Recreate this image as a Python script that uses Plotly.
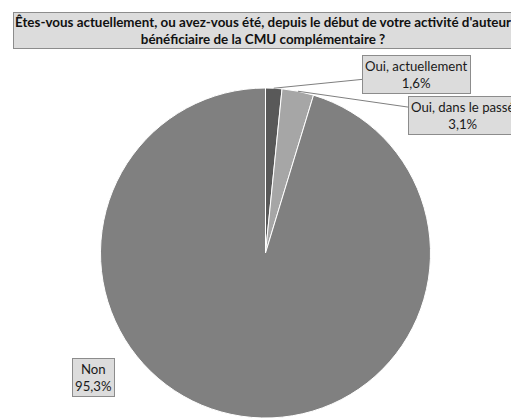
import math
import plotly.graph_objects as go

title_text = "Êtes-vous actuellement, ou avez-vous été, depuis le début de votre activité d'auteur<br>bénéficiaire de la CMU complémentaire ?"
labels = ["Oui, actuellement", "Oui, dans le passé", "Non"]
values = [1.6, 3.1, 95.3]
label_text = ["1,6%", "3,1%", "95,3%"]
colors = ["#595959", "#a6a6a6", "#808080"]

W, H = 511, 418
cx, cy, r = 265.5, 253.0, 165.0

fig = go.Figure(go.Pie(
    labels=labels, values=values, sort=False, direction="clockwise", rotation=0,
    marker=dict(colors=colors, line=dict(color="white", width=1)),
    textinfo="none", hoverinfo="label+percent", showlegend=False,
    domain=dict(x=[(cx - r) / W, (cx + r) / W], y=[max(0, (H - cy - r) / H), (H - cy + r) / H]),
))

font = dict(family="Lato, 'Noto Sans', sans-serif", size=13.2, color="#1a1a1a")
box = dict(bgcolor="#dcdcdc", bordercolor="#8c8c8c", borderwidth=1, borderpad=2)

# label centres in pixels
label_pos = [(416, 74), (463, 115), (93.5, 377)]
total = sum(values)
cum = 0.0
annotations = []
for i, v in enumerate(values):
    mid = (cum + v / 2) / total * 2 * math.pi
    cum += v
    px = cx + r * math.sin(mid)
    py = cy - r * math.cos(mid)
    txt = f"{labels[i]}<br>{label_text[i]}"
    lx, ly = label_pos[i]
    if i < 2:
        annotations.append(dict(
            x=px / W, y=1 - py / H, xref="paper", yref="paper",
            text=txt, showarrow=True, arrowhead=0, arrowwidth=1, arrowcolor="#7f7f7f",
            ax=lx - px, ay=ly - py, font=font, **box))
    else:
        annotations.append(dict(
            x=lx / W, y=1 - ly / H, xref="paper", yref="paper",
            xanchor="center", yanchor="middle",
            text=txt, showarrow=False, font=font, **box))

annotations.append(dict(
    x=262.5 / W, y=1 - 30.5 / H, xref="paper", yref="paper", text=title_text,
    showarrow=False, font=dict(family="Lato, 'Noto Sans', sans-serif", size=13.4, color="#111111", weight="bold"),
    bgcolor="#dcdcdc", bordercolor="#8c8c8c", borderwidth=1, borderpad=1, xanchor="center", yanchor="middle"))

fig.update_layout(
    width=W, height=H, margin=dict(l=0, r=0, t=0, b=0),
    paper_bgcolor="white", plot_bgcolor="white",
    annotations=annotations,
)
fig.write_html("out.html", config={"displayModeBar": False},
               post_script="document.body.style.margin='0';document.body.style.overflow='hidden';")
